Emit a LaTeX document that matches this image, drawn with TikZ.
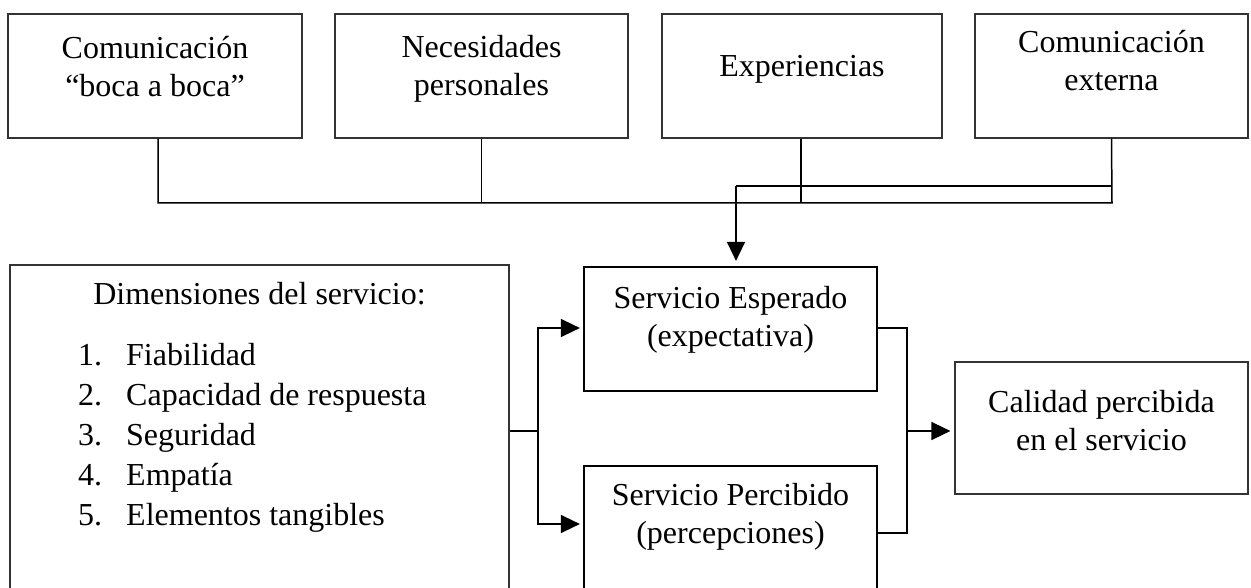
\documentclass[tikz,border=0pt]{standalone}
\usepackage{fontspec}
\setmainfont{Liberation Serif}
\usetikzlibrary{arrows.meta}
\begin{document}
\begin{tikzpicture}[x=1pt,y=-1pt,
  thinbox/.style={draw=black!80,line width=1.2pt,inner sep=0pt},
  thickbox/.style={draw=black,line width=2.2pt,inner sep=0pt},
  conn/.style={draw=black,line width=1.5pt},
  arr/.style={conn,-{Triangle[length=19pt,width=18pt]}},
  txt/.style={inner sep=0pt,align=center,anchor=north,font=\fontsize{32}{38}\selectfont},
  ltxt/.style={inner sep=0pt,anchor=base west,font=\fontsize{32}{38}\selectfont}]
\clip (0,0) rectangle (1251,588);
\fill[white] (0,0) rectangle (1251,588);
% top boxes
\node[thinbox,minimum width=294pt,minimum height=124pt] (b1) at (155,76) {};
\node[thinbox,minimum width=293pt,minimum height=124pt] (b2) at (481.5,76) {};
\node[thinbox,minimum width=280pt,minimum height=124pt] (b3) at (802,76) {};
\node[thinbox,minimum width=273pt,minimum height=124pt] (b4) at (1111.5,76) {};
\node[txt] (t1) at (155,31.4) {\strut Comunicación\\\strut “boca a boca”};
\node[txt] (t2) at (481.5,30.4) {\strut Necesidades\\\strut personales};
\node[txt] (t3) at (802,49.4) {\strut Experiencias};
\node[txt] (t4) at (1111.5,25.4) {\strut Comunicación\\\strut externa};
% lower boxes
\node[thinbox,minimum width=499pt,minimum height=332pt] (lb) at (259.5,431) {};
\node[thickbox,minimum width=293pt,minimum height=124pt] (esp) at (730.5,329) {};
\node[thickbox,minimum width=293pt,minimum height=124pt] (per) at (730.5,528) {};
\node[thinbox,minimum width=293pt,minimum height=132pt] (cal) at (1101.5,428) {};
\node[txt] (tesp) at (730.5,281.4) {\strut Servicio Esperado\\\strut (expectativa)};
\node[txt] (tper) at (730.5,478.4) {\strut Servicio Percibido\\\strut (percepciones)};
\node[txt] (tcal) at (1101.5,385.4) {\strut Calidad percibida\\\strut en el servicio};
\node[inner sep=0pt,anchor=base,font=\fontsize{32}{38}\selectfont] (tdim) at (259.5,305) {Dimensiones del servicio:};
\foreach \i/\t in {1/Fiabilidad,2/Capacidad de respuesta,3/Seguridad,4/Empatía,5/Elementos tangibles}{
  \node[ltxt] (n\i) at (78,{365+40*(\i-1)}) {\i.};
  \node[ltxt] (i\i) at (126,{365+40*(\i-1)}) {\t};
}
% top connectors
\coordinate (busL) at (158,203);
\coordinate (busR) at (1112,203);
\coordinate (upR) at (1112,186);
\coordinate (upL) at (736,186);
\draw[conn] ([xshift=3pt]b1.south) -- (busL) -- (busR) -- (b4.south);
\draw[conn] (b2.south) -- (b2.south |- busL);
\draw[conn] ([xshift=-1pt]b3.south) -- ([xshift=-1pt]b3.south |- busL);
\draw[conn] (upR) -- (upL);
\draw[arr,shorten >=5pt] (upL) -- (upL |- esp.north);
% left connectors
\coordinate (jl) at (538,431);
\draw[conn] (lb.east) -- (jl);
\draw[arr,shorten >=3pt] (jl) |- ([yshift=1pt]esp.west);
\draw[arr,shorten >=3pt] (jl) |- ([yshift=4pt]per.west);
% right connectors
\coordinate (jr) at (907,431);
\draw[conn] ([yshift=1pt]esp.east) -| (jr) |- ([yshift=-5pt]per.east);
\draw[arr,shorten >=4pt] (jr) -- (jr -| cal.west);
\end{tikzpicture}
\end{document}
